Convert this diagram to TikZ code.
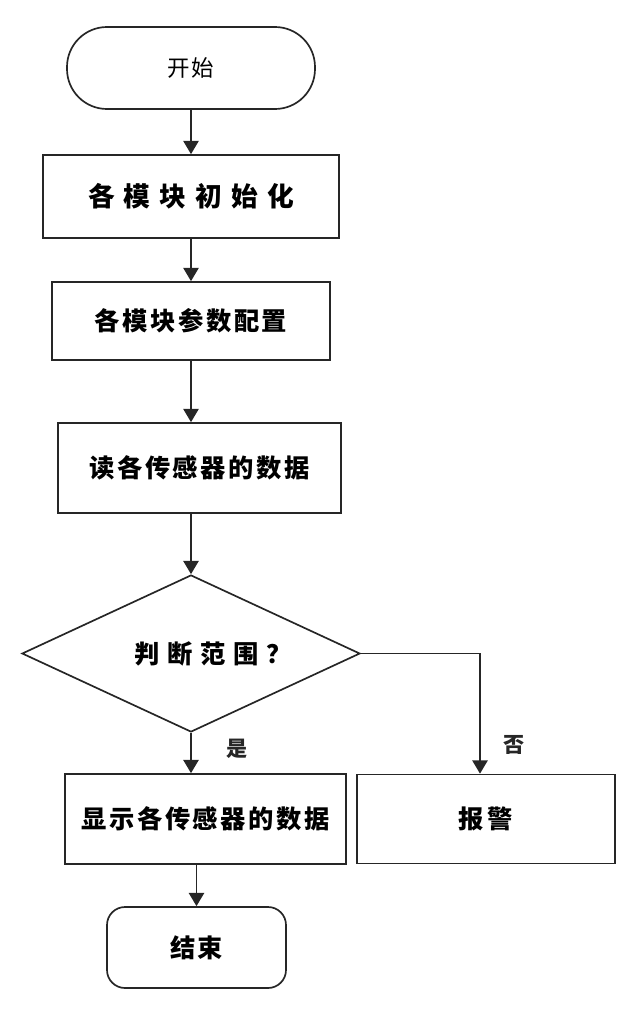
\documentclass[tikz,border=0pt]{standalone}
\usepackage{fontspec}
\newfontfamily\cjk{Noto Sans CJK SC}
\usetikzlibrary{shapes,arrows.meta,positioning}

\begin{document}
\begin{tikzpicture}[node distance=3.2cm, auto,
    >={Triangle[length=0.33cm,width=0.38cm]},
    flowbox/.style={rectangle, draw=black!85, line width=1.2pt, align=center,
        font=\cjk\bfseries\fontsize{18}{21}\selectfont\addfontfeatures{LetterSpace=10}},
    termbox/.style={rectangle, draw=black!85, line width=1.2pt, align=center},
    decision/.style={diamond, draw=black!85, line width=1.2pt, aspect=2.15, inner sep=0pt,
        font=\cjk\bfseries\fontsize{18}{21}\selectfont\addfontfeatures{LetterSpace=30}},
    lbl/.style={font=\cjk\bfseries\fontsize{15}{18}\selectfont}]
    \useasboundingbox (-4.775,1.7) rectangle (10.9,-23.7);

    \node (start) [termbox, rounded corners=1cm, minimum width=6.2cm, minimum height=2.05cm,
        font=\cjk\fontsize{16}{19}\selectfont\addfontfeatures{LetterSpace=8}] {开始};
    \node (init) [flowbox, below of=start, node distance=3.2125cm, minimum width=7.4cm, minimum height=2.075cm,
        font=\cjk\bfseries\fontsize{19}{22}\selectfont\addfontfeatures{LetterSpace=34}] {各模块初始化};
    \node (config) [flowbox, below of=init, node distance=3.1125cm, minimum width=6.95cm, minimum height=1.95cm] {各模块参数配置};
    \node (read) [flowbox, below of=config, node distance=3.675cm, xshift=0.2125cm, minimum width=7.075cm, minimum height=2.25cm] {读各传感器的数据};
    \node (judge) [decision, below of=read, node distance=4.6375cm, xshift=-0.2125cm, minimum width=8.45cm, minimum height=3.925cm] {\hspace*{1.1cm}判断范围？};
    \node (disp) [flowbox, below of=judge, node distance=4.1375cm, xshift=0.3625cm, minimum width=7.025cm, minimum height=2.25cm] {显示各传感器的数据};
    \node (alarm) [flowbox, right of=disp, node distance=7.0125cm, minimum width=6.45cm, minimum height=2.225cm,
        font=\cjk\bfseries\fontsize{18}{21}\selectfont\addfontfeatures{LetterSpace=14}] {报警};
    \node (end) [flowbox, below of=disp, node distance=3.2125cm, xshift=-0.225cm, rounded corners=0.45cm, minimum width=4.475cm, minimum height=2.025cm,
        font=\cjk\bfseries\fontsize{18}{21}\selectfont\addfontfeatures{LetterSpace=6}] {结束};

    \draw[->, line width=1.2pt, black!85] (start) -- (init);
    \draw[->, line width=1.2pt, black!85] (init) -- (config);
    \draw[->, line width=1.2pt, black!85] (judge.north |- config.south) -- (judge.north |- read.north);
    \draw[->, line width=1.2pt, black!85] (judge.north |- read.south) -- (judge);
    \draw[->, line width=1.2pt, black!85] (judge) -- (judge |- disp.north) node[lbl, pos=0.4, right=0.75cm] (yes) {是};
    \draw[->, line width=1.2pt, black!85] (end.north |- disp.south) -- (end);
    \draw[->, line width=1.2pt, black!85] (judge.east) -| ([xshift=-0.15cm]alarm.north) node[lbl, pos=0.88, right=0.45cm] (no) {否};
\end{tikzpicture}
\end{document}
